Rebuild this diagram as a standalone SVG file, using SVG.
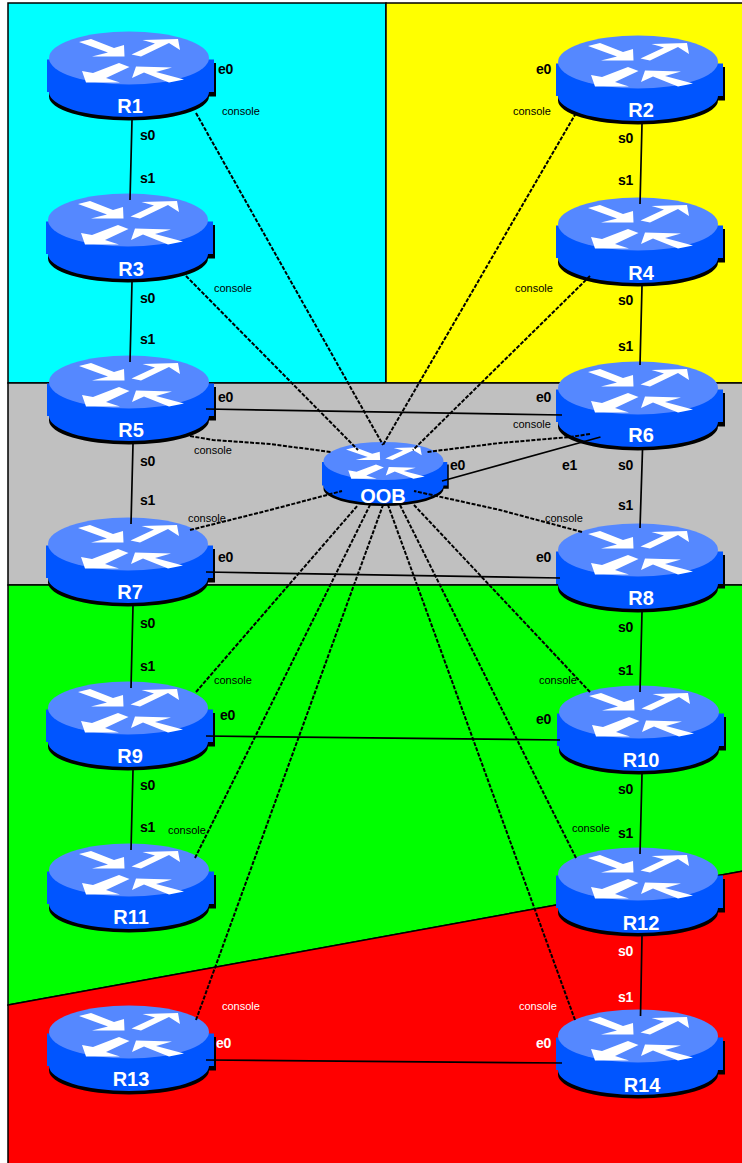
<svg xmlns="http://www.w3.org/2000/svg" xmlns:xlink="http://www.w3.org/1999/xlink" width="742" height="1163" viewBox="0 0 742 1163">
<style>
text{font-family:"Liberation Sans",Arial,sans-serif}
.r{stroke:#000;stroke-width:1.5}
.n{font-size:20px;font-weight:bold;fill:#fff;text-anchor:middle}
.p{font-size:14px;font-weight:bold;fill:#000;letter-spacing:-.2px}
.pw{font-size:14px;font-weight:bold;fill:#fff;letter-spacing:-.2px}
.c{font-size:11px;fill:#000}
.cw{font-size:11px;fill:#fff}
.s{fill:none;stroke:#000;stroke-width:1.7}
.d{fill:none;stroke:#000;stroke-width:2;stroke-dasharray:4 1.500}
</style>
<defs>
<g id="router">
<path d="M-78,5H87V38.500H80A80,24 0 0 1 -80,38.500Z" fill="#000"/>
<path d="M-82,1.500H85V34H80A80,25 0 0 1 -80,34H-82Z" fill="#0055ff"/>
<ellipse cx="0" cy="0" rx="80" ry="26.500" fill="#5588ff"/>
<path fill="#fff" d="M-50,-16L-38,-19L-15,-10L-5,-13L-4.500,-1.500L-37,-1.500L-21,-5.500Z"/>
<path fill="#fff" d="M2.500,-3.500L26,-14.500L13.500,-18L49,-19L51,-8L40,-15L12,-1.500Z"/>
<path fill="#fff" d="M.5,9L-10,5L-36,15L-47,13L-43,24.500L-9,24.500L-23,20Z"/>
<path fill="#fff" d="M3,20L7,8.500L43,9.500L27,14L55,21.500L40,24.500L15,14.500Z"/>
</g>
</defs>
<g id="regions">
<rect class="r" x="8" y="3" width="378" height="380" fill="#00ffff"/>
<rect class="r" x="386" y="3" width="357" height="380" fill="#ffff00"/>
<rect class="r" x="8" y="383" width="735" height="202" fill="#c0c0c0"/>
<path class="r" d="M8,585H743V871L8,1005Z" fill="#00ff00"/>
<path class="r" d="M8,1005L743,871V1164H8Z" fill="#ff0000"/>
</g>
<g id="R1"><use xlink:href="#router" href="#router" x="129" y="58"/><text class="n" x="130" y="113">R1</text></g>
<g id="R2"><use xlink:href="#router" href="#router" x="638" y="62"/><text class="n" x="641" y="117">R2</text></g>
<g id="R3"><use xlink:href="#router" href="#router" x="128" y="220"/><text class="n" x="131" y="276">R3</text></g>
<g id="R4"><use xlink:href="#router" href="#router" x="638" y="224"/><text class="n" x="641" y="280">R4</text></g>
<g id="R5"><use xlink:href="#router" href="#router" x="129" y="382"/><text class="n" x="131" y="437">R5</text></g>
<g id="R6"><use xlink:href="#router" href="#router" x="638" y="388"/><text class="n" x="641" y="442">R6</text></g>
<g id="R7"><use xlink:href="#router" href="#router" x="128" y="544"/><text class="n" x="130" y="599">R7</text></g>
<g id="R8"><use xlink:href="#router" href="#router" x="638" y="550"/><text class="n" x="641" y="605">R8</text></g>
<g id="R9"><use xlink:href="#router" href="#router" x="128" y="708"/><text class="n" x="130" y="763">R9</text></g>
<g id="R10"><use xlink:href="#router" href="#router" x="639" y="712"/><text class="n" x="641" y="767">R10</text></g>
<g id="R11"><use xlink:href="#router" href="#router" x="129" y="870"/><text class="n" x="131" y="924">R11</text></g>
<g id="R12"><use xlink:href="#router" href="#router" x="638" y="874"/><text class="n" x="641" y="930">R12</text></g>
<g id="R13"><use xlink:href="#router" href="#router" x="129" y="1032"/><text class="n" x="131" y="1086">R13</text></g>
<g id="R14"><use xlink:href="#router" href="#router" x="638" y="1036"/><text class="n" x="642" y="1092">R14</text></g>
<g id="OOB"><use xlink:href="#router" href="#router" transform="translate(383.500 461) scale(.75 .72)"/><text class="n" x="383" y="503">OOB</text></g>
<g id="connectors">
<path class="s" d="M132,120L130,200M132,282L130,362M133,444L131,524M133,606L131,688M133,770L131,850M642,124L640,204M642,286L640,365M642.500,450L640,528M642,612L640,692M642,774L640,854M642,936L640.500,1016M206,409L562,415M206,572L560,578M206,736L560,740M206,1060L562,1063M442,481L600.500,437"/>
<path class="d" d="M196,113L383,445M576,113L383,445M186,276L358,450M590,276L413,450M190,436L213,440L270,444L331,452M590,434L570,437L500,443L427,452M190,530L270,510L342,491M582,532L500,510L414,491M196,692L358,505M590,692L414,505M195,858L370,505M576,858L400,505M196,1020L383,505M575,1020L388,505"/>
</g>
<g id="labels">
<text class="p" x="218" y="74">e0</text><text class="p" x="536" y="74">e0</text>
<text class="c" x="222" y="115">console</text><text class="c" x="513" y="115">console</text>
<text class="c" x="214" y="292">console</text><text class="c" x="515" y="292">console</text>
<text class="c" x="194" y="454">console</text><text class="c" x="513" y="428">console</text>
<text class="c" x="188" y="522">console</text><text class="c" x="545" y="522">console</text>
<text class="c" x="214" y="684">console</text><text class="c" x="539" y="684">console</text>
<text class="c" x="168" y="834">console</text><text class="c" x="572" y="832">console</text>
<text class="cw" x="222" y="1010">console</text><text class="cw" x="519" y="1010">console</text>
<text class="p" x="618" y="143">s0</text><text class="p" x="618" y="185">s1</text>
<text class="p" x="618" y="305">s0</text><text class="p" x="618" y="351">s1</text>
<text class="p" x="618" y="470">s0</text><text class="p" x="618" y="510">s1</text>
<text class="p" x="618" y="632">s0</text><text class="p" x="618" y="675">s1</text>
<text class="p" x="618" y="794">s0</text><text class="p" x="618" y="838">s1</text>
<text class="pw" x="618" y="956">s0</text><text class="pw" x="618" y="1002">s1</text>
<text class="p" x="140" y="140">s0</text><text class="p" x="140" y="183">s1</text>
<text class="p" x="140" y="303">s0</text><text class="p" x="140" y="344">s1</text>
<text class="p" x="140" y="466">s0</text><text class="p" x="140" y="505">s1</text>
<text class="p" x="140" y="628">s0</text><text class="p" x="140" y="671">s1</text>
<text class="p" x="140" y="790">s0</text><text class="p" x="140" y="832">s1</text>
<text class="p" x="218" y="402">e0</text><text class="p" x="536" y="402">e0</text>
<text class="p" x="218" y="562">e0</text><text class="p" x="536" y="562">e0</text>
<text class="p" x="220" y="720">e0</text><text class="p" x="536" y="724">e0</text>
<text class="pw" x="216" y="1048">e0</text><text class="pw" x="536" y="1048">e0</text>
<text class="p" x="450" y="470">e0</text><text class="p" x="562" y="470">e1</text>
</g>
</svg>
